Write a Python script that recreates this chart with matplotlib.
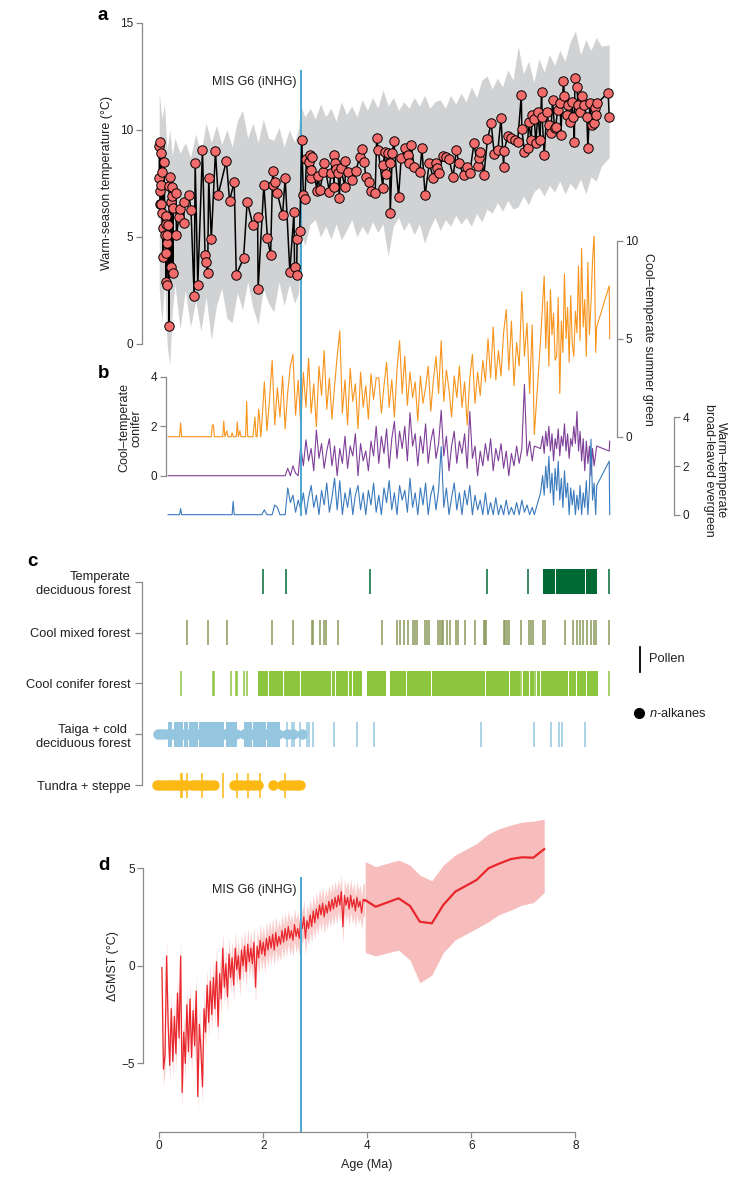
import numpy as np
import matplotlib
matplotlib.use('Agg')
import matplotlib.pyplot as plt

plt.rcParams['font.family'] = ['Liberation Sans', 'DejaVu Sans']
plt.rcParams['mathtext.fontset'] = 'custom'
plt.rcParams['mathtext.it'] = 'Liberation Sans:italic'
plt.rcParams['mathtext.rm'] = 'Liberation Sans'

# ---------------- panel a: warm-season temperature ----------------
a_age = [0.00, 0.00, 0.01, 0.01, 0.02, 0.03, 0.03, 0.04, 0.05, 0.05,
         0.08, 0.08, 0.09, 0.11, 0.12, 0.12, 0.13, 0.13, 0.14, 0.14,
         0.15, 0.17, 0.19, 0.19, 0.21, 0.23, 0.23, 0.24, 0.25, 0.26,
         0.27, 0.32, 0.33, 0.38, 0.40, 0.47, 0.48, 0.57, 0.61, 0.67,
         0.69, 0.74, 0.83, 0.88, 0.89, 0.93, 0.95, 1.00, 1.08, 1.13,
         1.29, 1.35, 1.44, 1.48, 1.62, 1.69, 1.80, 1.89, 1.90, 2.01,
         2.08, 2.14, 2.18, 2.19, 2.22, 2.27, 2.37, 2.42, 2.51, 2.59,
         2.60, 2.64, 2.65, 2.70,
         2.74, 2.77, 2.80, 2.83, 2.88, 2.90, 2.91, 2.92, 2.94, 3.03,
         3.05, 3.09, 3.15, 3.17, 3.27, 3.30, 3.35, 3.36, 3.37, 3.39,
         3.44, 3.46, 3.49, 3.57, 3.58, 3.62, 3.71, 3.78, 3.85, 3.89,
         3.94, 3.97, 4.03, 4.07, 4.15, 4.18, 4.21, 4.30, 4.31, 4.33,
         4.35, 4.39, 4.43, 4.44, 4.48, 4.51, 4.60, 4.65, 4.73, 4.79,
         4.80, 4.84, 4.90, 5.01, 5.05, 5.11, 5.19, 5.27, 5.32, 5.33,
         5.38, 5.45, 5.51, 5.57, 5.65, 5.71, 5.76, 5.85, 5.91, 5.97,
         6.05, 6.12, 6.15, 6.17, 6.24, 6.31, 6.38, 6.44, 6.51, 6.57,
         6.62, 6.63, 6.70, 6.76, 6.83, 6.89, 6.96, 6.97, 7.02, 7.08,
         7.10, 7.15, 7.17, 7.21, 7.24, 7.28, 7.32, 7.35, 7.36, 7.40,
         7.45, 7.49, 7.53, 7.56, 7.60, 7.62, 7.66, 7.71, 7.72, 7.77,
         7.79, 7.84, 7.85, 7.90, 7.93, 7.96, 7.98, 7.99, 8.03, 8.05,
         8.09, 8.12, 8.17, 8.22, 8.24, 8.28, 8.32, 8.35, 8.37, 8.39,
         8.42, 8.63, 8.65]
a_temp = [9.24, 7.73, 7.15, 9.44, 6.53, 8.90, 7.42, 6.53, 8.04, 6.09,
          4.05, 5.43, 8.50, 5.10, 5.97, 5.60, 4.23, 2.91, 4.73, 2.75,
          5.09, 5.55, 0.84, 7.37, 7.78, 3.61, 6.64, 6.90, 7.34, 3.33,
          6.33, 7.06, 5.09, 5.94, 6.28, 5.66, 6.64, 6.95, 6.25, 2.24,
          8.46, 2.75, 9.05, 4.15, 3.84, 3.33, 7.73, 4.89, 8.99, 6.95,
          8.55, 6.69, 7.55, 3.23, 4.00, 6.64, 5.55, 5.94, 2.55, 7.42,
          4.93, 4.15, 8.09, 7.42, 7.57, 7.03, 6.02, 7.76, 3.37, 6.17,
          3.61, 3.22, 4.89, 5.27,
          9.52, 6.95, 6.77, 8.62, 8.51, 8.82, 7.73, 8.12, 8.74, 7.14,
          7.84, 7.19, 8.04, 8.46, 7.11, 7.99, 8.82, 7.34, 8.46, 8.15,
          7.97, 6.80, 8.20, 7.31, 8.55, 8.04, 7.65, 8.07, 8.71, 9.08,
          8.51, 7.81, 7.57, 7.15, 7.06, 9.63, 9.05, 7.27, 8.35, 8.97,
          7.93, 8.93, 8.46, 6.10, 8.90, 9.47, 6.87, 8.66, 9.13, 8.82,
          8.46, 9.29, 8.27, 8.04, 9.13, 6.95, 8.43, 7.73, 8.46, 8.20,
          7.99, 8.77, 8.71, 8.62, 7.81, 9.05, 8.43, 7.89, 8.27, 7.99,
          9.36, 8.31, 8.66, 8.97, 7.89, 9.55, 10.30, 8.87, 9.05, 10.53,
          8.24, 9.02, 9.71, 9.60, 9.52, 9.44, 11.62, 10.02, 8.97, 9.13,
          10.37, 9.52, 10.69, 10.49, 9.36, 10.84, 9.52, 11.77, 10.61, 8.82,
          10.84, 10.22, 9.86, 11.39, 10.06, 10.14, 10.92, 11.23, 9.75, 12.27,
          11.57, 10.69, 11.15, 10.37, 11.31, 10.61, 9.44, 12.40, 12.01, 11.15,
          10.84, 11.57, 11.15, 10.58, 9.16, 11.23, 10.22, 10.33, 11.00, 10.69,
          11.23, 11.73, 10.61]

band_age = [0.00, 0.05, 0.10, 0.15, 0.20, 0.25, 0.30, 0.40, 0.50, 0.60,
            0.70, 0.80, 0.90, 1.00, 1.10, 1.20, 1.30, 1.40, 1.50, 1.60,
            1.70, 1.80, 1.90, 2.00, 2.10, 2.20, 2.30, 2.40, 2.50, 2.60,
            2.68, 2.72, 2.80, 2.90, 3.00, 3.10, 3.20, 3.30, 3.40, 3.50,
            3.60, 3.70, 3.80, 3.90, 4.00, 4.10, 4.20, 4.30, 4.40, 4.50,
            4.60, 4.70, 4.80, 4.90, 5.00, 5.10, 5.20, 5.30, 5.40, 5.50,
            5.60, 5.70, 5.80, 5.90, 6.00, 6.10, 6.20, 6.30, 6.40, 6.50,
            6.60, 6.70, 6.80, 6.90, 7.00, 7.10, 7.20, 7.30, 7.40, 7.50,
            7.60, 7.70, 7.80, 7.90, 8.00, 8.10, 8.20, 8.30, 8.40, 8.50,
            8.65]
band_hi = [11.7, 10.5, 11.2, 9.0, 10.0, 8.8, 9.6, 8.9, 9.4, 8.7,
           9.8, 8.9, 10.3, 9.4, 10.2, 9.3, 10.0, 9.2, 10.4, 10.9,
           9.6, 10.3, 9.4, 10.5, 9.6, 9.5, 10.1, 9.2, 10.0, 9.4,
           10.1, 11.1, 10.6, 11.0, 10.5, 11.2, 10.6, 11.0, 10.4, 11.3,
           10.7, 11.1, 10.6, 11.4, 10.9, 11.5, 11.0, 11.85, 11.1, 11.5,
           10.9, 11.3, 11.0, 11.5, 11.1, 11.6, 11.0, 11.3, 11.4, 11.0,
           11.6, 11.2, 11.7, 11.3, 12.0, 11.5, 12.3, 12.5, 11.9, 12.4,
           12.0, 12.8, 12.3, 13.9, 12.6, 13.2, 12.2, 13.3, 12.7, 13.5,
           13.0, 13.7, 13.2, 14.1, 14.6, 13.5, 14.2, 13.7, 14.3, 13.9,
           13.95]
band_lo = [2.5, 1.0, 3.0, 0.0, -1.0, 1.5, 2.8, 0.7, 2.5, 0.8,
           2.0, 0.6, 2.2, 0.2, 1.8, 2.6, 1.2, 1.0, 2.4, 1.6,
           2.9, 1.7, 0.9, 2.6, 1.9, 1.5, 2.9, 1.8, 2.8, 1.9,
           2.4, 5.2, 4.6, 5.6, 5.8, 5.0, 5.5, 4.9, 5.6, 4.85,
           5.3, 5.8, 5.0, 5.5, 5.1, 5.7, 5.2, 5.6, 4.1, 5.5,
           5.9, 5.3, 5.7, 5.1, 5.6, 4.7, 5.4, 5.9, 5.3, 5.8,
           5.5, 6.0, 5.6, 5.9, 5.5, 6.1, 5.7, 6.3, 6.1, 6.6,
           6.2, 6.7, 6.3, 6.4, 6.9, 6.5, 7.1, 7.3, 6.9, 7.4,
           7.1, 7.6, 7.0, 7.5, 7.2, 7.7, 7.0, 7.8, 7.6, 8.3,
           8.7]

# ---------------- panel b: pollen biome scores ----------------
pollen_age = [0.17, 0.30, 0.39, 0.41, 0.43, 0.60, 0.80, 1.00, 1.02, 1.04,
              1.06, 1.15, 1.22, 1.24, 1.26, 1.30, 1.32, 1.38, 1.40, 1.42,
              1.44, 1.48, 1.50, 1.52, 1.55, 1.57, 1.62, 1.64, 1.66, 1.68,
              1.70, 1.75, 1.80, 1.84, 1.86, 1.88, 1.91, 1.93, 1.95,
              1.97, 2.02, 2.07, 2.12, 2.17, 2.22, 2.27, 2.32, 2.37, 2.42,
              2.47, 2.52, 2.57, 2.62, 2.67, 2.72, 2.77, 2.82, 2.87, 2.92,
              2.97, 3.02, 3.07, 3.12, 3.17, 3.22, 3.27, 3.32, 3.37, 3.42,
              3.47, 3.52, 3.57, 3.62, 3.67, 3.72, 3.77, 3.82, 3.87, 3.92,
              3.97, 4.02, 4.07, 4.12, 4.17, 4.22, 4.27, 4.32, 4.37, 4.42,
              4.47, 4.52, 4.57, 4.62, 4.67, 4.72, 4.77, 4.82, 4.87, 4.92,
              4.97, 5.02, 5.07, 5.12, 5.17, 5.22, 5.27, 5.32, 5.37, 5.42,
              5.47, 5.52, 5.57, 5.62, 5.67, 5.72, 5.77, 5.82, 5.87, 5.92,
              5.97, 6.02, 6.07, 6.12, 6.17, 6.22, 6.27, 6.32, 6.37, 6.42,
              6.47, 6.52, 6.57, 6.62, 6.67, 6.72, 6.77, 6.82, 6.87, 6.92,
              6.97, 7.02, 7.07, 7.12, 7.17, 7.21,
              7.33,
              7.37, 7.40, 7.43, 7.46, 7.49, 7.52, 7.55, 7.58, 7.61, 7.64,
              7.67, 7.70, 7.73, 7.76, 7.79, 7.82, 7.85, 7.88, 7.91, 7.94,
              7.97, 8.00, 8.03, 8.06, 8.09, 8.12, 8.15, 8.18, 8.21, 8.24,
              8.27, 8.30, 8.33, 8.36, 8.39, 8.41,
              8.65, 8.66]
summer_green = [0, 0, 0, 0.7, 0, 0, 0, 0, 0.6, 0.6,
                0, 0, 0, 0.8, 0, 0.3, 0, 0, 0.2, 0,
                0, 0, 0.75, 0, 0.3, 0, 0, 0, 0, 1.8,
                0, 0, 0, 1.0, 0, 0, 1.4, 0.9, 0,
                0.6, 2.8, 0.3, 1.9, 3.9, 0.6, 2.5, 1.0, 3.1, 0.4,
                2.3, 3.6, 4.2, 1.1, 2.9, 0.6, 3.3, 1.5, 4.0, 1.2,
                2.7, 0.5, 3.6, 2.1, 4.4, 1.4, 3.0, 0.9, 2.6, 4.1,
                5.4, 1.2, 2.9, 0.6, 3.5, 1.8, 2.7, 0.4, 3.3, 1.5,
                2.6, 0.9, 3.2, 1.9, 3.0, 3.0, 1.2, 2.6, 3.8, 1.5,
                2.9, 1.0, 3.4, 4.9, 2.2, 4.1, 1.6, 3.3, 2.0, 2.8,
                0.8, 3.1, 1.7, 2.5, 3.6, 1.3, 2.9, 4.1, 2.2, 4.9,
                1.8, 3.4, 2.4, 1.0, 3.1, 2.0, 3.6, 1.5, 2.8, 0.6,
                3.0, 4.2, 1.7, 3.3, 2.1, 3.9, 2.8, 5.0, 3.0, 5.6,
                2.9, 4.4, 3.1, 5.3, 6.5, 3.4, 5.9, 2.6, 4.8, 3.6,
                7.4, 4.1, 5.8, 2.2, 5.7, 0.1,
                4.9,
                6.8, 8.2, 4.5, 6.9, 3.6, 7.5, 5.2, 6.3, 3.9, 4.1,
                7.1, 2.2, 5.9, 4.3, 8.3, 5.0, 6.6, 3.8, 7.2, 4.7,
                4.1, 6.4, 5.3, 8.7, 4.9, 9.6, 5.6, 7.0, 4.1, 8.9,
                5.2, 6.8, 9.0, 10.3, 4.3, 5.6,
                7.7, 5.0]
conifer = [0, 0, 0, 0, 0, 0, 0, 0, 0, 0,
           0, 0, 0, 0, 0, 0, 0, 0, 0, 0,
           0, 0, 0, 0, 0, 0, 0, 0, 0, 0,
           0, 0, 0, 0, 0, 0, 0, 0, 0,
           0, 0, 0, 0, 0, 0, 0, 0, 0, 0,
           0.3, 0, 0.4, 0.1, 0, 1.2, 0.4, 1.45, 0.6, 1.1,
           0.2, 1.85, 0.7, 1.3, 0.3, 1.0, 1.5, 0.4, 1.2, 0.0,
           1.1, 0.5, 1.6, 0.3, 1.2, 0.8, 1.7, 0.0, 1.3, 0.6,
           1.0, 0.2, 1.4, 0.8, 2.0, 0.5, 1.6, 0.9, 1.9, 0.3,
           1.5, 2.2, 0.7, 1.8, 1.1, 2.0, 0.6, 2.55, 1.2, 1.7,
           0.4, 1.6, 0.9, 2.1, 0.5, 1.4, 1.9, 0.7, 1.3, 2.65,
           0.8, 1.6, 0.2, 1.2, 1.8, 0.5, 1.4, 0.9, 1.7, 0.3,
           2.6, 0.7, 1.2, 0.0, 1.0, 0.4, 1.3, 0.6, 1.5, 0.2,
           1.1, 0.6, 1.3, 0.3, 1.0, 0.0, 0.9, 0.4, 1.2, 0.5,
           1.1, 3.7, 0.8, 1.4, 0.6, 1.2,
           1.1,
           1.6, 0.9, 1.8, 1.2, 2.0, 1.0, 1.7, 0.6, 1.5, 1.1,
           1.9, 0.8, 1.6, 1.2, 2.1, 1.0, 1.7, 0.7, 1.5, 1.2,
           2.0, 1.3, 2.6, 1.0, 1.8, 0.6, 1.5, 0.2, 1.4, 0.5,
           1.2, 0.0, 1.1, 0.4, 0.9, 1.2,
           1.0, 1.4]
broadleaf = [0, 0, 0, 0.25, 0, 0, 0, 0, 0, 0,
             0, 0, 0, 0, 0, 0, 0, 0, 0, 0.55,
             0, 0, 0, 0, 0, 0, 0, 0, 0, 0,
             0, 0, 0, 0, 0, 0, 0, 0, 0,
             0, 0.2, 0, 0, 0, 0.4, 0.3, 0, 0, 0,
             1.1, 0.5, 0.8, 0.1, 0.6, 0.2, 0.9, 0.0, 0.7, 1.2,
             0.3, 0.8, 0.0, 1.0, 0.4, 1.3, 0.1, 0.7, 1.5, 0.2,
             1.4, 0.0, 0.9, 0.3, 1.1, 0.0, 0.8, 1.2, 0.2, 0.9,
             0.0, 1.0, 0.4, 1.3, 0.1, 0.8, 0.0, 1.1, 0.5, 1.4,
             0.2, 0.9, 0.0, 1.2, 0.6, 1.0, 0.1, 1.5, 0.3, 0.9,
             0.0, 1.1, 0.4, 1.3, 0.0, 0.8, 1.2, 0.2, 1.0, 2.8,
             0.3, 1.1, 0.0, 0.7, 1.3, 0.2, 0.9, 0.0, 1.0, 0.4,
             1.2, 0.0, 0.8, 0.2, 0.6, 0.0, 0.9, 0.0, 0.5, 0.0,
             0.7, 0.0, 0.4, 0.0, 0.6, 0.0, 0.3, 0.0, 0.5, 0.0,
             0.6, 0.1, 0.4, 0.0, 0.3, 0.0,
             0.9,
             1.6, 0.8, 2.0, 1.1, 2.4, 0.9, 1.7, 0.4, 1.9, 1.0,
             2.2, 0.6, 1.5, 0.3, 1.8, 0.7, 1.3, 0.0, 1.1, 0.4,
             1.0, 0.0, 0.8, 0.2, 1.2, 0.0, 0.9, 0.3, 1.4, 0.0,
             1.1, 3.1, 0.6, 1.3, 0.0, 1.2,
             2.2, 0.0]

# ---------------- panel c: biome occurrences ----------------
biome_labels = ['Temperate\ndeciduous forest', 'Cool mixed forest', 'Cool conifer forest',
                'Taiga + cold \ndeciduous forest', 'Tundra + steppe']
biome_colors = ['#006a36', '#8a9a5b', '#8cc63f', '#95c6e0', '#fcb813']
tdf_ticks = [2.00, 2.43, 4.05, 6.30, 7.09, 8.65]
tdf_spans = [(7.37, 7.60), (7.62, 8.18), (8.20, 8.41)]
cmf_ticks = [0.54, 0.93, 1.30, 2.16, 2.58, 2.94, 2.96, 3.09, 3.17, 3.21,
             3.44, 4.28, 4.57, 4.63, 4.71, 4.79, 4.88, 4.91, 4.96, 5.11,
             5.14, 5.19, 5.35, 5.39, 5.43, 5.46, 5.53, 5.59, 5.70, 5.75,
             5.88, 6.07, 6.25, 6.27, 6.29, 6.62, 6.65, 6.68, 6.73, 6.95,
             7.11, 7.15, 7.19, 7.38, 7.42, 7.80, 7.96, 8.03, 8.09, 8.14,
             8.22, 8.30, 8.36, 8.40, 8.65]
cmf_spans = []
ccf_ticks = [0.42, 1.04, 1.06, 1.38, 1.47, 1.50, 1.62, 1.68, 6.96, 7.23, 8.65]
ccf_spans = [(1.90, 2.09), (2.11, 2.37), (2.39, 2.70), (2.72, 3.31), (3.33, 3.37),
             (3.39, 3.63), (3.65, 3.70), (3.72, 3.90), (4.00, 4.35), (4.43, 4.75),
             (4.77, 5.23), (5.25, 6.27), (6.29, 6.72), (6.74, 6.93), (7.00, 7.10),
             (7.12, 7.20), (7.27, 7.32), (7.34, 7.86), (7.88, 8.02), (8.04, 8.21),
             (8.23, 8.43)]
taiga_ticks = [2.45, 2.55, 2.59, 2.71, 2.84, 2.87, 2.95, 3.35, 3.81, 4.13,
               6.19, 7.21, 7.53, 7.69, 7.75, 8.19]
taiga_spans = [(0.16, 0.25), (0.28, 0.45), (0.48, 0.56), (0.58, 0.75), (0.77, 1.25),
               (1.28, 1.50), (1.62, 1.78), (1.80, 2.05), (2.08, 2.33)]
taiga_dots = [-0.02, 0.04, 0.10, 0.16, 0.22, 0.28, 0.34, 0.40, 0.46, 0.52,
              0.58, 0.64, 0.70, 0.76, 0.82, 0.88, 0.94, 1.00, 1.06, 1.12,
              1.18, 1.24, 1.30, 1.36, 1.42, 1.48, 1.63, 1.69, 1.75, 1.81,
              1.87, 1.93, 1.99, 2.05, 2.11, 2.17, 2.23, 2.29, 2.45, 2.58, 2.74]
tundra_ticks = [0.41, 0.44, 0.53, 0.82, 1.23, 1.50, 1.71, 1.93, 2.41]
tundra_spans = []
tundra_dots = [-0.04, 0.02, 0.08, 0.14, 0.20, 0.26, 0.32, 0.38, 0.46, 0.52,
               0.62, 0.68, 0.74, 0.80, 0.86, 0.92, 0.98, 1.05, 1.43, 1.50,
               1.58, 1.66, 1.74, 1.82, 1.90, 2.18, 2.35, 2.42, 2.50, 2.57,
               2.64, 2.71]

# ---------------- panel d: global mean surface temperature ----------------
d_age = [0.05, 0.08, 0.11, 0.14, 0.17, 0.20, 0.23, 0.26, 0.29, 0.32,
         0.35, 0.38, 0.41, 0.44, 0.47, 0.50, 0.53, 0.56, 0.59, 0.62,
         0.65, 0.68, 0.71, 0.74, 0.77, 0.80, 0.83, 0.86, 0.89, 0.92,
         0.95, 0.98, 1.01, 1.04, 1.07, 1.10, 1.13, 1.16, 1.19, 1.22,
         1.25, 1.28, 1.31, 1.34, 1.37, 1.40, 1.43, 1.46, 1.49, 1.52,
         1.55, 1.58, 1.61, 1.64, 1.67, 1.70, 1.73, 1.76, 1.79, 1.82,
         1.85, 1.88, 1.91, 1.94, 1.97, 2.00, 2.03, 2.06, 2.09, 2.12,
         2.15, 2.18, 2.21, 2.24, 2.27, 2.30, 2.33, 2.36, 2.39, 2.42,
         2.45, 2.48, 2.51, 2.54, 2.57, 2.60, 2.63, 2.66, 2.69, 2.72,
         2.75, 2.78, 2.81, 2.84, 2.87, 2.90, 2.93, 2.96, 2.99, 3.02,
         3.05, 3.08, 3.11, 3.14, 3.17, 3.20, 3.23, 3.26, 3.29, 3.32,
         3.35, 3.38, 3.41, 3.44, 3.47, 3.50, 3.53, 3.56, 3.59, 3.62,
         3.65, 3.68, 3.71, 3.74, 3.77, 3.80, 3.83, 3.86, 3.89, 3.92,
         3.95]
d_val = [-0.1, -5.3, -4.6, 0.5, -3.0, -5.1, -2.2, -4.9, -2.6, -4.5,
         -1.4, -3.7, 0.5, -6.5, -3.4, -5.0, -2.0, -4.4, -1.7, -4.7,
         -2.3, -4.1, -1.3, -6.7, -3.0, -4.3, -6.2, -2.2, -3.4, -1.0,
         -2.9, -0.8, -2.5, -0.6, -2.2, 0.2, -3.1, -0.4, -1.7, 0.9,
         -1.1, 0.1, -1.6, 0.6, -0.6, 0.4, -1.0, 0.9, -0.2, 0.5,
         -0.7, 0.8, 0.0, 1.0, -0.3, 1.1, 0.2, 0.9, 0.1, 1.2,
         -1.1, 1.0, 0.4, 1.3, 0.6, 1.2, 0.5, 1.4, 0.8, 1.5,
         0.9, 1.6, 0.8, 1.7, 1.0, 1.5, 1.1, 1.8, 1.2, 1.9,
         1.3, 2.0, 1.4, 1.8, 1.3, 2.1, 1.5, 1.9, 1.4, 2.4,
         1.9, 2.5, 1.4, 2.3, 1.9, 2.6, 2.0, 2.8, 2.2, 2.9,
         2.4, 3.1, 2.6, 3.2, 2.5, 3.1, 2.7, 3.3, 2.8, 3.4,
         2.9, 3.5, 3.0, 3.6, 3.1, 3.8, 2.0, 3.6, 3.1, 3.5,
         2.9, 3.6, 3.0, 3.4, 2.8, 3.5, 3.0, 3.3, 2.7, 3.4,
         3.3]
d_halfwidth = 0.85
d_coarse_age = [3.96, 4.16, 4.60, 4.82, 5.01, 5.24, 5.46, 5.69, 6.10, 6.33, 6.52, 6.76, 6.97, 7.19, 7.40]
d_coarse_val = [3.36, 3.02, 3.45, 3.06, 2.25, 2.17, 3.11, 3.79, 4.39, 4.99, 5.21, 5.46, 5.55, 5.53, 5.97]
d_coarse_hi = [5.33, 5.07, 5.41, 5.15, 4.64, 4.35, 5.15, 5.67, 6.25, 6.75, 7.00, 7.20, 7.35, 7.40, 7.50]
d_coarse_lo = [0.67, 0.50, 0.80, 0.29, -0.87, -0.48, 0.67, 1.32, 1.91, 2.25, 2.60, 2.85, 3.10, 3.23, 3.74]

inhg_age = 2.72

# ---------------- layout (pixel based) ----------------
W, H = 736, 1178
fig = plt.figure(figsize=(W / 100, H / 100), dpi=100)

def box(l, t, r, b):
    return [l / W, 1 - b / H, (r - l) / W, (b - t) / H]

def ftext(x, y, s, **kw):
    fig.text(x / W, 1 - y / H, s, **kw)

XL, XR = 141.5, 617
XLIM = (-0.342, 8.80)
SPINE = '#8a8a8a'
TXT = '#231f20'
BLUE_LINE = '#4aa6d1'

def style(ax, keep):
    ax.patch.set_visible(False)
    for s in ['left', 'right', 'top', 'bottom']:
        ax.spines[s].set_visible(s in keep)
        ax.spines[s].set_color(SPINE)
        ax.spines[s].set_linewidth(0.9)
    ax.tick_params(colors=SPINE, labelcolor=TXT, labelsize=8.5, length=4, width=0.9, pad=2)
    ax.set_xlim(XLIM)
    if 'bottom' not in keep:
        ax.set_xticks([])

# panel b (added first so panel a draws over it)
ax_b = fig.add_axes(box(XL, 236, XR, 520))
ax_b2 = ax_b.twinx()
ax_b3 = ax_b.twinx()
style(ax_b, ['left'])
style(ax_b2, ['right'])
style(ax_b3, ['right'])
ax_b.set_ylim(-1.793, 9.704)
ax_b2.set_ylim(-4.25, 10.24)
ax_b3.set_ylim(-0.218, 11.45)
ax_b.spines['left'].set_position(('axes', (165.7 - XL) / (XR - XL)))
ax_b.spines['left'].set_bounds(0, 4)
ax_b.set_yticks([0, 2, 4])
ax_b2.spines['right'].set_bounds(0, 10)
ax_b2.set_yticks([0, 5, 10])
ax_b3.spines['right'].set_position(('axes', (674.3 - XL) / (XR - XL)))
ax_b3.spines['right'].set_bounds(0, 4)
ax_b3.set_yticks([0, 2, 4])
ax_b.plot(pollen_age, conifer, color='#7e3f98', lw=0.8)
ax_b2.plot(pollen_age, summer_green, color='#f7941d', lw=0.8)
ax_b3.plot(pollen_age, broadleaf, color='#3a7abd', lw=0.8)

# panel a
ax_a = fig.add_axes(box(XL, 15, XR, 380))
style(ax_a, ['left'])
ax_a.set_ylim(-1.68, 15.35)
ax_a.spines['left'].set_bounds(0, 15)
ax_a.set_yticks([0, 5, 10, 15])
ax_a.fill_between(band_age, band_lo, band_hi, color='#d1d2d4', lw=0, zorder=1)
ax_a.axvline(inhg_age, ymin=(380 - 515) / 365, ymax=(380 - 70.7) / 365,
             color=BLUE_LINE, lw=1.4, clip_on=False, zorder=2)
ax_a.plot(a_age, a_temp, color='black', lw=1.1, marker='o', ms=6.8,
          mfc='#f26b6b', mec='black', mew=0.7, zorder=3)

# panel c
ax_c = fig.add_axes(box(XL, 560, XR, 800))
style(ax_c, ['left'])
ax_c.set_ylim(-0.289, 4.426)
ax_c.spines['left'].set_bounds(0, 4)
ax_c.set_yticks([4, 3, 2, 1, 0])
ax_c.set_yticklabels(biome_labels, fontsize=9.3)
ax_c.tick_params(axis='y', length=5, pad=3)
hh = 0.245
rows = [(tdf_ticks, tdf_spans, []), (cmf_ticks, cmf_spans, []), (ccf_ticks, ccf_spans, []),
        (taiga_ticks, taiga_spans, taiga_dots), (tundra_ticks, tundra_spans, tundra_dots)]
for i, (ticks, spans, dots) in enumerate(rows):
    y = 4 - i
    col = biome_colors[i]
    ax_c.vlines(ticks, y - hh, y + hh, color=col, lw=1.1)
    if spans:
        ax_c.broken_barh([(s, e - s) for s, e in spans], (y - hh, 2 * hh), facecolors=col, lw=0)
    if dots:
        ax_c.plot(dots, [y] * len(dots), 'o', color=col, ms=7.5, mew=0)
ax_c.plot([9.24, 9.24], [2.233, 2.725], color='black', lw=1.3, clip_on=False)
ax_c.text(9.42, 2.48, 'Pollen', va='center', fontsize=9.3, color=TXT)
ax_c.plot([9.23], [1.415], 'o', color='black', ms=7, clip_on=False)
ax_c.text(9.42, 1.415, r'$n$-alkanes', va='center', fontsize=9.3, color=TXT)

# panel d
ax_d = fig.add_axes(box(XL, 815, XR, 1132))
style(ax_d, ['left', 'bottom'])
ax_d.set_ylim(-8.515, 7.716)
ax_d.spines['left'].set_position(('axes', (143.3 - XL) / (XR - XL)))
ax_d.spines['left'].set_bounds(-5, 5)
ax_d.spines['bottom'].set_bounds(0, 8)
ax_d.set_yticks([-5, 0, 5])
ax_d.set_xticks([0, 2, 4, 6, 8])
d_val_arr = np.array(d_val)
ax_d.fill_between(d_age, d_val_arr - d_halfwidth, d_val_arr + d_halfwidth,
                  color='#fbcccc', lw=0)
ax_d.plot(d_age, d_val, color='#e8262b', lw=0.9)
ax_d.fill_between(d_coarse_age, d_coarse_lo, d_coarse_hi, color='#f7bdbd', lw=0)
ax_d.plot(d_coarse_age, d_coarse_val, color='#e8262b', lw=1.6)
ax_d.axvline(inhg_age, ymin=0, ymax=(1132 - 877.7) / 317, color=BLUE_LINE, lw=1.4)

# texts
for lab, x, y in [('a', 103, 15), ('b', 104, 374), ('c', 32, 561), ('d', 104, 866)]:
    ftext(x, y, lab, fontsize=13.5, fontweight='bold', ha='center', va='center', color='black')
ftext(106.7, 183.3, 'Warm-season temperature (°C)', rotation=90, ha='center', va='center', fontsize=9, color=TXT)
ftext(297, 81.7, 'MIS G6 (iNHG)', ha='right', va='center', fontsize=9, color=TXT)
ftext(296.7, 890, 'MIS G6 (iNHG)', ha='right', va='center', fontsize=9, color=TXT)
ftext(130.5, 428, 'Cool–temperate\nconifer', rotation=90, ha='center', va='center',
      fontsize=9, color=TXT, linespacing=1.05)
ftext(648, 339, 'Cool–temperate summer green', rotation=270, ha='center', va='center', fontsize=9, color=TXT)
ftext(715, 470, 'Warm–temperate\nbroad-leaved evergreen', rotation=270, ha='center', va='center',
      fontsize=9, color=TXT, linespacing=1.05)
ftext(113, 966, 'ΔGMST (°C)', rotation=90, ha='center', va='center', fontsize=9, color=TXT)
ftext(367, 1165, 'Age (Ma)', ha='center', va='center', fontsize=9, color=TXT)

fig.savefig('out.png', dpi=100)
